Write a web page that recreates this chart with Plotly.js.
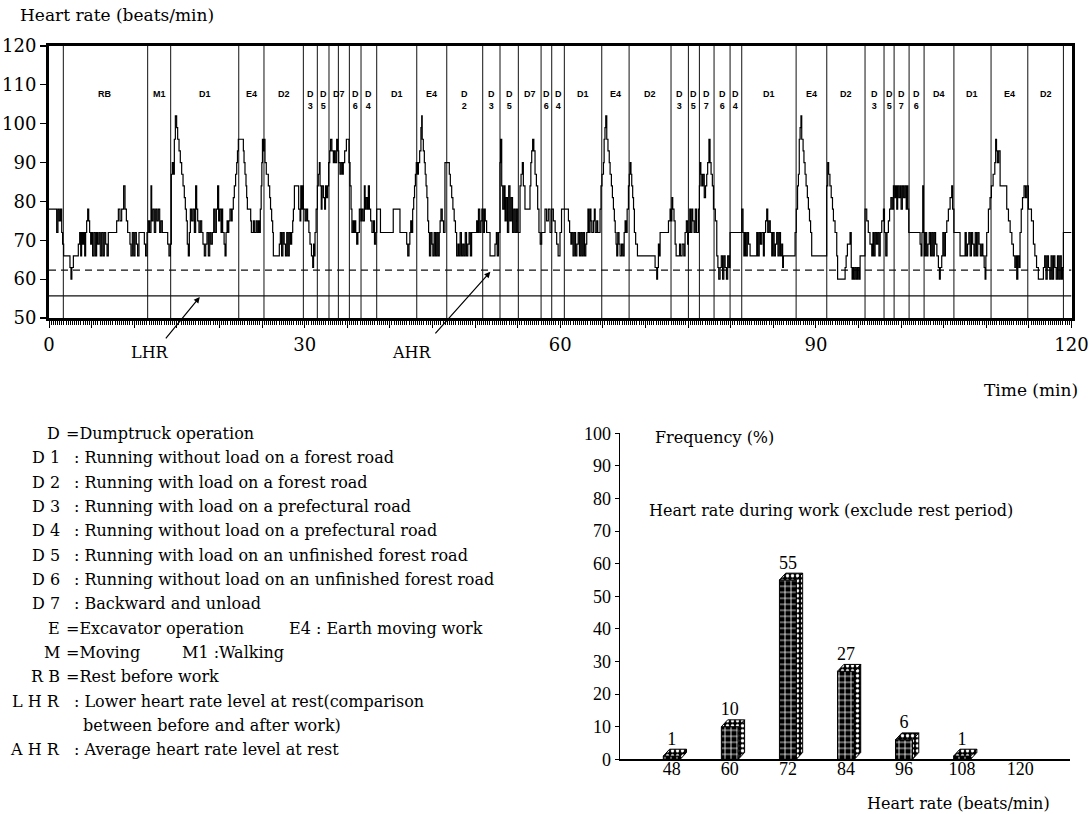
<!DOCTYPE html>
<html><head><meta charset="utf-8">
<script src="https://cdn.plot.ly/plotly-3.0.1.min.js"></script>
<style>html,body{margin:0;padding:0;background:#fff;}#chart{width:1090px;height:814px;}</style>
</head><body><div id="chart"></div>
<script>
// ---------------- DATA ----------------
// heart rate record (time in min, beats/min)
const hrPart1 = [[0,78],[0.9,72],[1.05,78],[1.2,75],[1.35,78],[1.49,72],[1.6,69],[1.72,66],[2.46,63],[2.58,60],[2.68,63],[2.86,66],[3.44,69],[3.6,72],[3.72,66],[3.83,72],[3.95,69],[4.07,72],[4.19,66],[4.3,72],[4.42,75],[4.54,78],[4.66,75],[4.77,72],[4.89,69],[5.01,72],[5.12,66],[5.28,72],[5.44,66],[5.59,72],[5.71,69],[5.87,72],[6.02,66],[6.18,72],[6.34,66],[6.49,72],[6.65,69],[6.81,66],[6.96,72],[7.94,75],[8.14,78],[8.33,75],[8.53,78],[8.76,84],[8.92,78],[9.08,75],[9.23,72],[9.5,69],[9.62,66],[9.78,72],[9.94,66],[10.09,72],[10.25,69],[10.4,66],[10.56,72],[11.19,69],[11.34,66],[11.5,72],[11.66,75],[11.81,72],[11.97,84],[12.05,75],[12.2,78],[12.36,72],[12.52,78],[12.67,75],[12.83,78],[12.99,72],[13.14,75],[13.3,72],[13.93,69],[14.08,66],[14.24,69],[14.36,87],[14.47,90],[14.59,87],[14.71,96],[14.83,102],[14.98,99],[15.1,96],[15.26,93],[15.41,90],[15.57,87],[15.73,84],[15.88,81],[16.0,78],[16.12,75],[16.23,69],[16.35,66],[16.47,72],[16.59,78],[16.74,75],[16.9,78],[17.06,72],[17.21,84],[17.33,78],[17.45,75],[17.6,72],[17.76,75],[17.92,72],[18.07,69],[18.23,66],[18.39,69],[18.54,72],[18.7,66],[18.86,72],[19.01,69],[19.17,72],[19.33,78],[19.48,72],[19.64,78],[19.79,84],[19.91,75],[20.03,78],[20.19,72],[20.3,78]];
const hrPart2 = [[20.38,72],[20.55,69],[20.66,66],[20.78,72],[20.9,75],[21.0,72],[21.1,75],[21.24,78],[21.4,75],[21.5,78],[21.63,81],[21.75,84],[21.9,87],[22.03,90],[22.12,93],[22.22,96],[22.81,93],[22.89,90],[23.0,87],[23.12,84],[23.2,81],[23.28,78],[23.67,75],[23.75,72],[23.98,75],[24.1,72],[24.3,75],[24.45,72],[24.6,75],[24.7,72],[24.8,78],[24.9,84],[24.98,90],[25.05,96],[25.12,93],[25.2,96],[25.35,90],[25.5,87],[25.74,84],[25.9,81],[26.0,78],[26.13,75],[26.25,72],[26.33,66],[27.03,69],[27.15,72],[27.3,66],[27.45,72],[27.6,69],[27.75,66],[27.9,72],[28.05,66],[28.2,72],[28.35,69],[28.48,72],[28.6,75],[28.68,78],[28.8,84],[29.3,78],[29.46,75],[29.55,84],[29.65,78],[29.75,84],[29.85,78],[30.05,75],[30.2,78],[30.35,75],[30.5,72],[30.63,69],[30.8,66],[30.95,63],[31.05,69],[31.15,66],[31.22,72],[31.35,78],[31.5,84],[31.6,87],[31.73,90],[31.81,84],[31.95,78],[32.04,84],[32.2,81],[32.35,78],[32.45,84],[32.59,81],[32.7,84],[32.82,90],[32.95,93],[33.05,96],[33.2,93],[33.37,90],[33.5,93],[33.6,90],[33.76,96],[33.9,93],[34.0,90],[34.15,87],[34.3,90],[34.45,87],[34.54,90],[34.7,93],[34.9,96],[35.2,90],[35.33,84],[35.45,78],[35.55,72],[35.7,75],[35.8,72],[35.9,75],[36.0,72],[36.11,69],[36.25,72],[36.42,78],[36.6,75],[36.7,78],[36.85,75],[37.01,84],[37.1,78],[37.2,81],[37.35,78],[37.48,84],[37.6,78],[37.75,75],[37.9,72],[38.07,75],[38.2,69],[38.35,72],[38.46,78],[38.9,72]];
const hrPart3 = [[40.4,78],[41.19,72],[41.98,69],[42.1,66],[42.25,69],[42.35,72],[42.45,75],[42.55,72],[42.68,78],[42.8,81],[42.9,84],[43.0,87],[43.1,90],[43.25,87],[43.35,90],[43.5,93],[43.65,99],[43.74,102],[43.8,96],[43.93,93],[44.05,90],[44.15,87],[44.25,84],[44.35,81],[44.45,75],[44.55,72],[44.65,66],[44.8,72],[44.95,69],[45.05,66],[45.2,72],[45.35,66],[45.5,72],[45.65,66],[45.8,72],[45.9,75],[46.0,78],[46.15,75],[46.3,72],[46.47,90],[46.98,87],[47.1,84],[47.26,81],[47.4,78],[47.55,75],[47.7,72],[47.84,66],[48.0,69],[48.1,66],[48.25,72],[48.4,66],[48.55,69],[48.7,66],[48.85,72],[49.0,66],[49.15,69],[49.3,72],[49.45,66],[49.6,72],[50.19,75],[50.3,72],[50.4,78],[50.55,72],[50.7,75],[50.8,78],[50.95,72],[51.1,78],[51.2,75],[51.36,72],[51.76,66],[52.34,69],[52.5,72],[52.6,66],[52.75,72],[52.93,90],[53.0,96],[53.13,84],[53.25,78],[53.4,84],[53.52,75],[53.65,81],[53.8,72],[53.95,84],[54.1,75],[54.25,81],[54.4,72],[54.55,78],[54.7,72],[54.85,78],[55.0,72],[55.28,84],[55.4,87],[55.55,90],[55.67,84],[55.86,78],[56.45,84],[56.55,90],[56.65,93],[56.76,96],[56.9,93],[57.04,87],[57.2,84],[57.35,78],[57.5,72],[57.65,69],[57.82,72],[58.21,78],[58.4,75],[58.6,78],[58.8,72],[59.0,78],[59.19,75],[59.4,72],[59.58,69],[59.75,66],[59.97,72],[60.15,78]];
const hrPart4 = [[60.37,78],[60.96,75],[61.1,72],[61.25,69],[61.35,72],[61.5,66],[61.65,72],[61.8,66],[61.95,69],[62.1,72],[62.25,66],[62.4,72],[62.55,66],[62.7,72],[62.85,66],[63.0,69],[63.11,72],[63.25,78],[63.35,72],[63.5,78],[63.6,75],[63.7,72],[63.89,75],[64.0,78],[64.1,72],[64.28,75],[64.4,72],[64.67,78],[64.78,84],[64.9,87],[65.07,90],[65.15,96],[65.25,99],[65.34,102],[65.46,96],[65.6,93],[65.75,90],[65.85,87],[66.0,84],[66.12,81],[66.24,78],[66.35,75],[66.45,72],[66.55,69],[66.63,66],[66.75,72],[66.9,69],[67.02,66],[67.2,69],[67.35,66],[67.5,72],[67.61,75],[67.75,72],[67.85,78],[68.0,84],[68.1,87],[68.19,90],[68.3,87],[68.39,84],[68.5,81],[68.6,78],[68.7,72],[68.85,69],[69.06,66],[71.13,63],[71.32,60],[71.42,63],[71.52,69],[71.6,66],[71.72,72],[72.7,75],[72.89,78],[73.0,75],[73.1,81],[73.2,78],[73.35,75],[73.48,69],[73.6,66],[74.0,69],[74.1,66],[74.3,69],[74.5,66],[74.65,72],[74.8,75],[74.95,69],[75.04,72],[75.2,78],[75.3,72],[75.45,78],[75.55,75],[75.7,72],[75.85,78],[76.0,72],[76.22,78],[76.33,84],[76.41,90],[76.5,87],[76.61,84],[76.75,87],[76.9,81],[77.05,84],[77.19,87],[77.3,90],[77.45,96],[77.58,90],[77.7,87],[77.85,84],[77.98,78],[78.2,75],[78.37,66],[78.5,63],[78.6,60],[78.76,63],[78.9,66],[79.05,60],[79.2,66],[79.35,63],[79.5,60],[79.65,66],[79.8,63],[79.93,72]];
const hrPart5 = [[81.3,78],[81.45,72],[81.55,66],[81.69,72],[81.8,66],[81.95,72],[82.1,69],[82.28,66],[83.06,72],[83.2,66],[83.35,72],[83.5,69],[83.65,72],[83.84,66],[83.95,72],[84.1,75],[84.23,78],[84.35,72],[84.5,75],[84.65,72],[84.82,66],[84.95,72],[85.1,66],[85.25,69],[85.4,72],[85.55,66],[85.7,72],[85.85,66],[86.0,69],[86.1,63],[86.19,66],[87.56,72],[87.7,78],[87.85,84],[87.95,87],[88.05,96],[88.15,99],[88.25,102],[88.34,96],[88.5,93],[88.6,90],[88.73,87],[88.85,84],[89.0,81],[89.12,78],[89.25,75],[89.38,72],[89.51,66],[91.27,84],[91.39,90],[91.5,87],[91.65,84],[91.8,81],[91.95,78],[92.06,75],[92.25,72],[92.45,66],[92.55,60],[93.43,63],[93.55,66],[93.7,69],[94.01,72],[94.15,63],[94.25,60],[94.35,63],[94.45,60],[94.6,63],[94.75,60],[94.9,63],[95.05,60],[95.19,66],[95.77,78],[95.97,75],[96.15,72],[96.35,69],[96.56,66],[96.7,72],[96.8,66],[96.95,72],[97.1,69],[97.25,72],[97.4,66],[97.55,72],[97.73,75],[97.93,78],[98.05,72],[98.2,66],[98.35,72],[98.51,75],[98.65,78],[98.8,81],[98.95,78],[99.1,84],[99.25,81],[99.35,84],[99.49,78],[99.6,84],[99.75,81],[99.9,84],[100.0,78]];
const hrPart6 = [[100.15,84],[100.3,81],[100.45,84],[100.6,78],[100.7,84],[100.8,78],[100.9,72],[102.23,69],[102.35,66],[102.45,72],[102.54,84],[102.62,72],[102.72,66],[102.85,72],[103.0,66],[103.15,69],[103.3,72],[103.45,66],[103.6,72],[103.75,66],[103.9,72],[104.05,69],[104.2,66],[104.38,63],[104.5,60],[104.6,63],[104.77,66],[104.9,72],[105.05,66],[105.2,72],[105.36,75],[105.55,78],[105.75,81],[105.94,84],[106.05,78],[106.2,72],[106.92,66],[107.51,72],[107.65,66],[107.8,69],[107.95,72],[108.1,66],[108.25,72],[108.4,69],[108.55,66],[108.7,72],[108.85,66],[109.0,72],[109.15,69],[109.3,66],[109.46,69],[109.6,66],[109.75,63],[109.86,60],[109.95,66],[110.05,72],[110.25,78],[110.44,81],[110.6,84],[110.8,87],[111.0,90],[111.1,96],[111.2,93],[111.3,90],[111.45,93],[111.62,84],[112.4,78],[112.6,75],[112.8,72],[113.0,69],[113.18,66],[113.35,63],[113.5,66],[113.57,60],[113.7,66],[113.85,63],[113.96,72],[114.1,78],[114.25,81],[114.43,84],[114.6,81],[114.75,84],[114.94,78],[115.3,75],[115.53,69],[115.7,66],[115.9,63],[116.11,60],[116.7,63],[116.85,66],[117.0,60],[117.15,66],[117.3,63],[117.45,60],[117.6,66],[117.75,60],[117.9,66],[118.05,63],[118.2,60],[118.35,66],[118.5,60],[118.65,66],[118.8,60],[118.93,63],[119.05,72],[120,72]];

// work-element segments (start time, min) and their labels
const segmentStarts = [0,1.68,11.58,14.28,22.27,25.23,29.85,31.49,32.86,35.25,36.62,38.46,43.16,46.68,50.9,52.93,55.08,57.75,59.0,60.48,64.87,68.08,73.0,75.04,76.33,78.05,79.93,81.3,87.68,91.28,95.77,98.0,99.18,100.94,102.7,106.2,110.56,114.87,119.05];
const segmentLabels = ["","RB","M1","D1","E4","D2","D<br>3","D<br>5","D7","D<br>6","D<br>4","D1","E4","D<br>2","D<br>3","D<br>5","D7","D<br>6","D<br>4","D1","E4","D2","D<br>3","D<br>5","D<br>7","D<br>6","D<br>4","D1","E4","D2","D<br>3","D<br>5","D<br>7","D<br>6","D4","D1","E4","D2",""];
const extraBoundaries = [33.96];
const segmentEnd = 120;

// reference levels
const levelLHR = 55.7;   // lower heart rate level at rest
const levelAHR = 62.3;   // average heart rate level at rest

// time-axis tick labels
const timeTickVals = [0,5,10,15,20,25,30,35,40,45,50,55,60,65,70,75,80,85,90,95,100,105,110,115,120];
const timeTickText = ["0","","","","","","30","","","","","","60","","","","","","90","","","","","","120"];
const hrTickVals = [50,60,70,80,90,100,110,120];

// frequency distribution
const hrBins = [48,60,72,84,96,108,120];
const hrBinLabels = ["48","60","72","84","96","108","120"];
const freqPct = [1,10,55,27,6,1,0];
const freqTickVals = [0,10,20,30,40,50,60,70,80,90,100];

// legend text
const legendCodes = ["D","D 1","D 2","D 3","D 4","D 5","D 6","D 7","E","M","R B","L H R","","A H R"];
const legendSeps  = ["=",":",":",":",":",":",":",":","=","=","=",":","",":"];
const legendDescs = ["Dumptruck operation","Running without load on a forest road","Running with load on a forest road","Running with load on a prefectural road","Running without load on a prefectural road","Running with load on an unfinished forest road","Running without load on an unfinished forest road","Backward and unload","Excavator operation","Moving","Rest before work","Lower heart rate level at rest(comparison","between before and after work)","Average heart rate level at rest"];
const legendSideTexts = ["","","","","","","","","E4 : Earth moving work","M1 :Walking","","","",""];

// ---------------- BUILD ----------------
const W = 1090, H = 814;
const px = v => v / W, py = v => 1 - v / H;
const SERIF = "DejaVu Serif, serif";
const NUMSERIF = "Liberation Serif, Times New Roman, serif";

const hrAll = [].concat(hrPart1, hrPart2, hrPart3, hrPart4, hrPart5, hrPart6);
const traces = [];

// segment boundary lines
const bx = [], by = [];
segmentStarts.concat(extraBoundaries).forEach(t => { if (t > 0) { bx.push(t, t, null); by.push(50, 120, null); } });
traces.push({type:'scatter', mode:'lines', x:bx, y:by, xaxis:'x', yaxis:'y', line:{color:'#111', width:1}, hoverinfo:'skip'});
// LHR and AHR levels
traces.push({type:'scatter', mode:'lines', x:[0,120], y:[levelLHR,levelLHR], line:{color:'#111', width:1.2}, hoverinfo:'skip'});
traces.push({type:'scatter', mode:'lines', x:[0,120], y:[levelAHR,levelAHR], line:{color:'#111', width:1.2, dash:'7px,5px'}, hoverinfo:'skip'});
// heart rate trace
traces.push({type:'scatter', mode:'lines', x:hrAll.map(p=>p[0]), y:hrAll.map(p=>p[1]), line:{color:'#000', width:1.2, shape:'hv'}, hoverinfo:'skip'});

// 3D bars
const bw = 3.5, dX = 1.3, dY = 2.1;
const nz = hrBins.map((b,i)=>i).filter(i=>freqPct[i] > 0);
traces.push({type:'bar', x:nz.map(i=>hrBins[i]), y:nz.map(i=>freqPct[i]), width:bw, xaxis:'x2', yaxis:'y2',
  marker:{color:'#000', line:{color:'#000', width:1}, pattern:{shape:'+', fgcolor:'#fff', bgcolor:'#000', size:6, solidity:0.25, fillmode:'replace'}}, hoverinfo:'skip'});
const sx = [], sy = [], tx = [], ty = [];
nz.forEach(i => {
  const x0 = hrBins[i]-bw/2, x1 = hrBins[i]+bw/2, v = freqPct[i];
  sx.push(x1, x1+dX, x1+dX, x1, x1, null); sy.push(0, dY, v+dY, v, 0, null);
  tx.push(x0, x1, x1+dX, x0+dX, x0, null); ty.push(v, v, v+dY, v+dY, v, null);
});
const facePattern = {shape:'.', fgcolor:'#fff', bgcolor:'#000', size:5, solidity:0.35, fillmode:'replace'};
traces.push({type:'scatter', mode:'lines', x:sx, y:sy, xaxis:'x2', yaxis:'y2', fill:'toself', fillcolor:'#000', fillpattern:facePattern, line:{color:'#000', width:1}, hoverinfo:'skip'});
traces.push({type:'scatter', mode:'lines', x:tx, y:ty, xaxis:'x2', yaxis:'y2', fill:'toself', fillcolor:'#000', fillpattern:facePattern, line:{color:'#000', width:1}, hoverinfo:'skip'});
// value labels
traces.push({type:'scatter', mode:'text', x:nz.map(i=>hrBins[i]), y:nz.map(i=>freqPct[i]+dY), text:nz.map(i=>String(freqPct[i])), textposition:'top center', textfont:{family:NUMSERIF, size:18, color:'#000'}, xaxis:'x2', yaxis:'y2', hoverinfo:'skip', cliponaxis:false});

const ann = [];
// segment labels
segmentStarts.forEach((t,i) => {
  if (!segmentLabels[i]) return;
  const t1 = i+1 < segmentStarts.length ? segmentStarts[i+1] : segmentEnd;
  ann.push({xref:'x', yref:'y', x:(t+t1)/2, y:109.4, yanchor:'top', xanchor:'center', showarrow:false, text:segmentLabels[i],
    font:{family:'Liberation Sans, Arial, sans-serif', size:9, color:'#000', weight:'bold'}});
});
// titles / labels
ann.push({xref:'paper', yref:'paper', x:px(18), y:py(15), xanchor:'left', yanchor:'middle', showarrow:false, text:'Heart rate (beats/min)', font:{family:SERIF, size:17, color:'#000'}});
ann.push({xref:'paper', yref:'paper', x:px(1080), y:py(390), xanchor:'right', yanchor:'middle', showarrow:false, text:'Time (min)', font:{family:SERIF, size:17, color:'#000'}});
ann.push({xref:'paper', yref:'paper', x:px(150), y:py(353), xanchor:'center', yanchor:'middle', showarrow:false, text:'LHR', font:{family:SERIF, size:16, color:'#000'}});
ann.push({xref:'paper', yref:'paper', x:px(412), y:py(353), xanchor:'center', yanchor:'middle', showarrow:false, text:'AHR', font:{family:SERIF, size:16, color:'#000'}});
ann.push({xref:'x', yref:'y', x:17.7, y:levelLHR-0.3, ax:-37, ay:45, showarrow:true, arrowhead:2, arrowsize:1, arrowwidth:1.2, arrowcolor:'#000', text:' ', standoff:0, startstandoff:0});
ann.push({xref:'x', yref:'y', x:51.8, y:levelAHR-0.4, ax:-58, ay:65, showarrow:true, arrowhead:2, arrowsize:1, arrowwidth:1.2, arrowcolor:'#000', text:' ', standoff:0, startstandoff:0});
// bar chart texts
ann.push({xref:'paper', yref:'paper', x:px(653), y:py(437), xanchor:'left', yanchor:'middle', showarrow:false, text:'Frequency (%)', font:{family:SERIF, size:16, color:'#000'}});
ann.push({xref:'paper', yref:'paper', x:px(647), y:py(510), xanchor:'left', yanchor:'middle', showarrow:false, text:'Heart rate during work (exclude rest period)', font:{family:SERIF, size:16, color:'#000'}});
ann.push({xref:'paper', yref:'paper', x:px(1052), y:py(803), xanchor:'right', yanchor:'middle', showarrow:false, text:'Heart rate (beats/min)', font:{family:SERIF, size:16, color:'#000'}});
// legend
legendCodes.forEach((c,i) => {
  const y = py(433.3 + i*24.36);
  const f = {family:SERIF, size:16, color:'#000'};
  if (c) ann.push({xref:'paper', yref:'paper', x:px(62), y:y, xanchor:'right', yanchor:'middle', showarrow:false, text:c, font:f});
  const sep = legendSeps[i];
  const txt = sep === ':' ? ': ' + legendDescs[i] : sep + legendDescs[i];
  const x0 = sep === ':' ? 72 : 64;
  ann.push({xref:'paper', yref:'paper', x:px(sep ? x0 : 81), y:y, xanchor:'left', yanchor:'middle', showarrow:false, text:sep ? txt : legendDescs[i], font:f});
  if (legendSideTexts[i]) ann.push({xref:'paper', yref:'paper', x:px(i===8 ? 287 : 180), y:y, xanchor:'left', yanchor:'middle', showarrow:false, text:legendSideTexts[i], font:f});
});

const layout = {
  width:W, height:H, margin:{l:0,r:0,t:0,b:0}, paper_bgcolor:'#fff', plot_bgcolor:'rgba(0,0,0,0)',
  showlegend:false, hovermode:false,
  xaxis:{domain:[px(49), px(1071.5)], range:[0,120], anchor:'y', tickmode:'array', tickvals:timeTickVals, ticktext:timeTickText,
    ticks:'outside', ticklen:7, tickwidth:1, tickcolor:'#000', showline:true, linewidth:3, linecolor:'#000', mirror:true,
    showgrid:false, zeroline:false, ticklabelstandoff:1, tickfont:{family:SERIF, size:18, color:'#000'},
    minor:{tickmode:'linear', tick0:0, dtick:0.25, ticks:'outside', ticklen:4, tickwidth:1, tickcolor:'#000', showgrid:false}},
  yaxis:{domain:[py(318), py(46)], range:[50,120], anchor:'x', tickmode:'array', tickvals:hrTickVals,
    ticks:'outside', ticklen:6, tickwidth:1.2, tickcolor:'#000', showline:true, linewidth:3, linecolor:'#000', mirror:true,
    showgrid:false, zeroline:false, tickfont:{family:SERIF, size:18, color:'#000'}},
  xaxis2:{domain:[px(620), px(1070)], range:[37.3,130.3], anchor:'y2', tickmode:'array', tickvals:hrBins, ticktext:hrBinLabels,
    ticks:'', showline:true, linewidth:1.5, linecolor:'#000', showgrid:false, zeroline:false, ticklabelstandoff:-7,
    tickfont:{family:NUMSERIF, size:18, color:'#000'}},
  yaxis2:{domain:[py(759.3), py(433.3)], range:[0,100], anchor:'x2', tickmode:'array', tickvals:freqTickVals,
    ticks:'outside', ticklen:4, tickwidth:1, tickcolor:'#000', showline:true, linewidth:1.5, linecolor:'#000',
    showgrid:false, zeroline:false, tickfont:{family:NUMSERIF, size:18, color:'#000'}},
  annotations:ann
};
Plotly.newPlot('chart', traces, layout, {displayModeBar:false, staticPlot:true});
</script></body></html>
